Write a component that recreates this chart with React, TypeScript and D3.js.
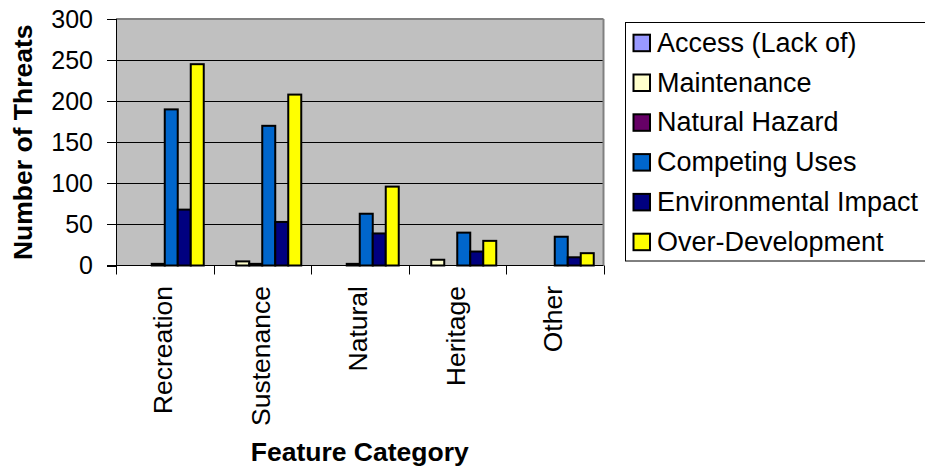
import React from "react";
import * as d3 from "d3";

const categories = ["Recreation", "Sustenance", "Natural", "Heritage", "Other"];
const seriesNames = [
  "Access (Lack of)",
  "Maintenance",
  "Natural Hazard",
  "Competing Uses",
  "Environmental Impact",
  "Over-Development",
];
const seriesColors = ["#9999FF", "#FFFFCC", "#660066", "#0066CC", "#000080", "#FFFF00"];
const accessValues = [0, 0, 0, 0, 0];
const maintenanceValues = [0, 5, 0, 7, 0];
const naturalHazardValues = [2, 2, 2, 0, 0];
const competingUsesValues = [190, 170, 63, 40, 35];
const environmentalImpactValues = [68, 53, 39, 17, 10];
const overDevelopmentValues = [245, 208, 96, 30, 15];
const yTicks = [0, 50, 100, 150, 200, 250, 300];

const seriesValues = [
  accessValues,
  maintenanceValues,
  naturalHazardValues,
  competingUsesValues,
  environmentalImpactValues,
  overDevelopmentValues,
];

const W = 925;
const H = 470;
const plotLeft = 116;
const plotRight = 603.5;
const plotTop = 19;
const plotBottom = 265.5;
const FONT = "'Liberation Sans', Arial, sans-serif";

export default function App() {
  const x = d3.scaleBand<string>().domain(categories).range([plotLeft, plotRight]).padding(0);
  const xs = d3
    .scaleBand<string>()
    .domain(seriesNames)
    .range([0, x.bandwidth()])
    .paddingInner(0)
    .paddingOuter(0.75);
  const y = d3.scaleLinear().domain([0, 300]).range([plotBottom, plotTop]);

  const boundaries = categories.map((c) => x(c) as number).concat([plotRight]);

  return (
    <svg
      width={W}
      height={H}
      style={{ position: "absolute", left: 0, top: 0, background: "#fff" }}
      fontFamily={FONT}
    >
      {/* plot area */}
      <rect x={plotLeft} y={plotTop} width={plotRight - plotLeft} height={plotBottom - plotTop} fill="#C0C0C0" />
      {/* gridlines */}
      {yTicks.slice(1, -1).map((t) => (
        <line key={t} x1={plotLeft} x2={plotRight} y1={Math.round(y(t)) + 0.5} y2={Math.round(y(t)) + 0.5} stroke="#000" strokeWidth={1} />
      ))}
      {/* border top & right */}
      <line x1={plotLeft} x2={plotRight} y1={plotTop} y2={plotTop} stroke="#808080" strokeWidth={2} />
      <line x1={plotRight} x2={plotRight} y1={plotTop} y2={plotBottom} stroke="#808080" strokeWidth={2} />

      {/* bars */}
      {seriesValues.map((vals, si) =>
        vals.map((v, ci) => {
          if (v <= 0) return null;
          const bx = (x(categories[ci]) as number) + (xs(seriesNames[si]) as number);
          const by = y(v);
          return (
            <rect
              key={`${si}-${ci}`}
              x={bx}
              y={by}
              width={xs.bandwidth()}
              height={plotBottom - by}
              fill={seriesColors[si]}
              stroke="#000"
              strokeWidth={2}
            />
          );
        })
      )}

      {/* axes */}
      <line x1={plotLeft + 0.5} x2={plotLeft + 0.5} y1={plotTop} y2={plotBottom} stroke="#000" strokeWidth={1} />
      <line x1={plotLeft - 9} x2={plotRight} y1={plotBottom} y2={plotBottom} stroke="#000" strokeWidth={1} />
      {yTicks.map((t) => (
        <g key={t}>
          <line x1={plotLeft - 9} x2={plotLeft} y1={Math.round(y(t)) + 0.5} y2={Math.round(y(t)) + 0.5} stroke="#000" strokeWidth={1} />
          <text x={93} y={y(t)} dy="0.35em" textAnchor="end" fontSize={25} fill="#000">
            {t}
          </text>
        </g>
      ))}
      {boundaries.map((b, i) => (
        <line key={i} x1={Math.round(b) + 0.5} x2={Math.round(b) + 0.5} y1={plotBottom} y2={plotBottom + 9} stroke="#000" strokeWidth={1} />
      ))}
      {categories.map((c) => {
        const cx = (x(c) as number) + x.bandwidth() / 2;
        return (
          <text
            key={c}
            transform={`translate(${cx + 7.5},286) rotate(-90)`}
            textAnchor="end"
            fontSize={26.5}
            fill="#000"
          >
            {c}
          </text>
        );
      })}

      {/* axis titles */}
      <text
        transform={`translate(31.5,${(plotTop + plotBottom) / 2}) rotate(-90)`}
        textAnchor="middle"
        fontSize={26.5}
        fontWeight="bold"
        fill="#000"
      >
        Number of Threats
      </text>
      <text x={(plotLeft + plotRight) / 2} y={461} textAnchor="middle" fontSize={26.5} fontWeight="bold" fill="#000">
        Feature Category
      </text>

      {/* legend */}
      <rect x={625.5} y={22.5} width={310} height={238.5} fill="#fff" stroke="#000" strokeWidth={1} />
      {seriesNames.map((s, i) => {
        const base = 51.7 + i * 39.8;
        return (
          <g key={s}>
            <rect x={633.5} y={base - 17} width={16.5} height={16.5} fill={seriesColors[i]} stroke="#000" strokeWidth={2} />
            <text x={657} y={base} fontSize={27} fill="#000">
              {s}
            </text>
          </g>
        );
      })}
    </svg>
  );
}
